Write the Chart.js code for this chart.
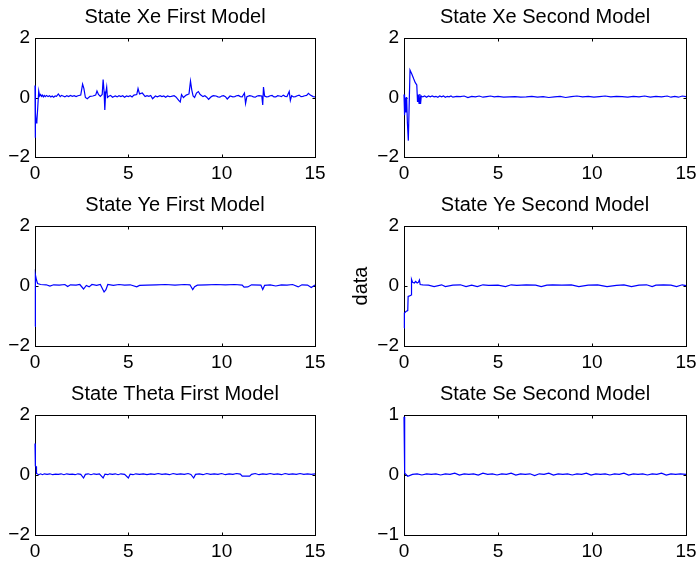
<!DOCTYPE html>
<html>
<head>
    <title>States of the two models</title>
    <!-- Include Chart.js library -->
    <script src="https://cdn.jsdelivr.net/npm/chart.js"></script>
    <style>
        body { margin: 0; background: #fff; overflow: hidden; }
        canvas { position: absolute; }
    </style>
</head>
<body>
    <canvas id="xeFirst" width="350" height="192" style="left:0;top:0"></canvas>
    <canvas id="xeSecond" width="392" height="192" style="left:349px;top:0"></canvas>
    <canvas id="yeFirst" width="350" height="193" style="left:0;top:188px"></canvas>
    <canvas id="yeSecond" width="392" height="193" style="left:349px;top:188px"></canvas>
    <canvas id="thetaFirst" width="350" height="193" style="left:0;top:377px"></canvas>
    <canvas id="seSecond" width="392" height="193" style="left:349px;top:377px"></canvas>

    <script>
        // x tick labels shared by all panels
        const xTicks = [0, 5, 10, 15];

        // State Xe, first model
        const xeFirstT = [0, 0.01, 0.03, 0.06, 0.1, 0.15, 0.2, 0.25, 0.3, 0.35, 0.4, 0.45, 0.5, 0.55, 0.62, 0.7, 0.78, 0.85, 0.92, 1.0, 1.08, 1.15, 1.25, 1.35, 1.42, 1.5, 1.6, 1.7, 1.8, 1.9, 2.0, 2.1, 2.2, 2.3, 2.45, 2.55, 2.62, 2.7, 2.8, 2.95, 3.1, 3.25, 3.32, 3.4, 3.5, 3.6, 3.65, 3.7, 3.74, 3.78, 3.84, 3.88, 3.95, 4.05, 4.15, 4.3, 4.4, 4.5, 4.6, 4.7, 4.8, 4.9, 5.0, 5.1, 5.2, 5.3, 5.45, 5.52, 5.6, 5.75, 5.9, 6.0, 6.1, 6.2, 6.3, 6.45, 6.55, 6.7, 6.8, 6.9, 7.0, 7.1, 7.2, 7.3, 7.45, 7.55, 7.7, 7.78, 7.85, 7.95, 8.1, 8.25, 8.33, 8.4, 8.47, 8.55, 8.65, 8.75, 8.85, 9.0, 9.1, 9.2, 9.3, 9.45, 9.55, 9.7, 9.8, 9.9, 10.0, 10.1, 10.2, 10.3, 10.45, 10.6, 10.7, 10.8, 10.9, 11.0, 11.1, 11.22, 11.28, 11.35, 11.5, 11.6, 11.7, 11.8, 11.9, 12.0, 12.15, 12.2, 12.24, 12.3, 12.4, 12.5, 12.6, 12.7, 12.8, 12.9, 13.0, 13.1, 13.2, 13.3, 13.4, 13.5, 13.62, 13.68, 13.75, 13.85, 13.95, 14.05, 14.15, 14.25, 14.35, 14.45, 14.55, 14.65, 14.75, 14.9, 15.0];
        const xeFirstV = [0.4, -1.35, -0.5, -0.85, -0.8, -0.3, 0.22, 0.05, 0.1, 0.04, 0.08, 0.02, 0.07, 0.03, 0.07, 0.03, 0.06, 0.02, 0.05, 0.01, 0.05, 0.04, 0.12, 0.03, 0.07, 0.05, 0.02, 0.06, 0.03, 0.07, 0.04, 0.06, 0.03, 0.06, 0.08, 0.45, 0.3, 0.0, -0.04, 0.04, 0.05, 0.08, 0.22, 0.1, 0.04, 0.1, 0.6, 0.2, -0.42, 0.1, 0.35, 0.0, 0.04, 0.07, 0.01, 0.05, 0.02, 0.06, 0.03, 0.06, 0.01, 0.05, 0.03, 0.06, 0.02, 0.08, 0.1, 0.3, 0.12, 0.15, 0.03, 0.06, 0.04, 0.07, -0.04, 0.05, 0.02, 0.06, 0.03, 0.05, 0.01, 0.05, 0.03, 0.04, 0.06, 0.02, -0.1, -0.15, 0.1, 0.0, 0.08, 0.12, 0.55, 0.25, 0.05, 0.0, 0.15, 0.2, 0.1, 0.03, 0.06, 0.01, -0.06, 0.03, 0.06, 0.05, 0.02, 0.01, 0.05, 0.06, 0.03, -0.05, 0.05, 0.02, 0.03, 0.06, 0.07, 0.03, 0.02, 0.15, -0.2, 0.03, 0.06, 0.05, 0.02, 0.01, 0.05, 0.06, 0.05, -0.25, 0.35, 0.05, 0.02, 0.03, 0.06, 0.07, 0.02, 0.02, 0.06, 0.05, 0.03, 0.08, 0.04, 0.03, 0.2, -0.1, 0.06, 0.02, 0.03, 0.06, 0.08, 0.03, 0.04, 0.06, 0.07, 0.14, 0.08, 0.03, 0.02];

        // State Xe, second model
        const xeSecondT = [0, 0.03, 0.06, 0.1, 0.14, 0.18, 0.23, 0.32, 0.42, 0.52, 0.6, 0.68, 0.72, 0.76, 0.8, 0.84, 0.88, 0.92, 1.0, 1.1, 1.2, 1.3, 1.4, 1.5, 1.6, 1.7, 1.8, 1.9, 2.0, 2.1, 2.2, 2.3, 2.4, 2.5, 2.6, 2.8, 3.0, 3.2, 3.4, 3.6, 3.8, 4.0, 4.2, 4.4, 4.6, 4.8, 5.0, 5.3, 5.6, 5.9, 6.2, 6.5, 6.8, 7.1, 7.4, 7.7, 8.0, 8.3, 8.6, 8.9, 9.2, 9.5, 9.8, 10.1, 10.4, 10.7, 11.0, 11.3, 11.6, 11.9, 12.2, 12.5, 12.8, 13.1, 13.4, 13.7, 14.0, 14.2, 14.4, 14.6, 14.8, 15.0];
        const xeSecondV = [0.1, -0.6, 0.0, -0.5, 0.02, -0.85, -1.45, 0.92, 0.78, 0.62, 0.5, 0.42, -0.15, 0.1, -0.2, 0.12, -0.22, 0.05, 0.02, 0.05, 0.01, 0.05, 0.02, 0.05, 0.02, 0.04, 0.01, 0.05, 0.02, 0.05, 0.01, 0.04, 0.02, 0.05, 0.01, 0.04, 0.03, 0.05, 0.0, 0.04, 0.02, 0.05, 0.01, 0.03, 0.05, 0.02, 0.04, 0.01, 0.02, 0.03, 0.01, 0.02, 0.04, 0.01, 0.03, 0.0, 0.02, 0.04, 0.0, 0.03, 0.05, 0.02, 0.04, 0.01, 0.03, 0.05, 0.02, 0.04, 0.03, 0.01, 0.04, 0.02, 0.05, 0.01, 0.04, 0.02, 0.05, 0.01, 0.04, 0.01, 0.05, 0.03];

        // State Ye, first model
        const yeFirstT = [0, 0.02, 0.08, 0.14, 0.3, 0.6, 0.8, 1.0, 1.3, 1.6, 1.75, 1.9, 2.2, 2.4, 2.6, 2.75, 2.9, 3.05, 3.3, 3.5, 3.7, 3.8, 3.9, 4.2, 4.5, 4.8, 5.1, 5.45, 5.6, 6.0, 6.5, 7.0, 7.5, 8.0, 8.3, 8.45, 8.55, 8.7, 9.2, 9.7, 10.2, 10.7, 11.1, 11.2, 11.4, 11.6, 12.1, 12.2, 12.3, 12.6, 12.9, 13.2, 13.5, 13.8, 14.1, 14.3, 14.6, 14.8, 15.0];
        const yeFirstV = [-1.35, 0.38, 0.2, 0.08, 0.05, 0.04, 0.0, 0.04, 0.03, 0.05, -0.02, 0.04, 0.03, 0.05, -0.1, 0.02, -0.03, 0.05, 0.02, 0.05, -0.2, -0.12, 0.05, 0.02, 0.05, 0.03, 0.04, -0.03, 0.02, 0.03, 0.04, 0.05, 0.03, 0.05, 0.04, -0.12, -0.02, 0.03, 0.04, 0.05, 0.04, 0.05, 0.03, -0.04, -0.03, 0.04, 0.03, -0.12, 0.02, 0.04, 0.0, 0.04, 0.03, 0.05, -0.03, 0.04, 0.03, -0.05, 0.03];

        // State Ye, second model
        const yeSecondT = [0, 0.02, 0.1, 0.2, 0.22, 0.3, 0.38, 0.4, 0.46, 0.55, 0.62, 0.7, 0.76, 0.82, 0.86, 1.0, 1.3, 1.6, 2.0, 2.2, 2.6, 3.0, 3.3, 3.6, 3.9, 4.2, 4.5, 5.0, 5.4, 5.7, 6.0, 6.5, 7.0, 7.3, 7.6, 7.9, 8.4, 8.9, 9.3, 9.8, 10.3, 10.8, 11.3, 11.7, 12.1, 12.5, 12.9, 13.2, 13.4, 13.8, 14.2, 14.5, 14.8, 15.0];
        const yeSecondV = [-1.4, -0.9, -0.85, -0.82, -0.35, -0.33, -0.3, 0.22, 0.12, 0.1, 0.15, 0.1, 0.12, 0.2, 0.05, 0.04, 0.03, -0.02, 0.04, -0.02, 0.03, 0.04, -0.02, 0.03, -0.02, 0.04, 0.02, 0.03, -0.02, 0.04, 0.02, 0.04, 0.03, -0.02, 0.03, 0.04, 0.03, 0.04, -0.02, 0.03, 0.04, -0.02, 0.02, 0.04, -0.02, 0.03, 0.04, -0.02, 0.03, 0.04, 0.03, -0.02, 0.04, 0.01];

        // State Theta, first model
        const thetaFirstT = [0, 0.02, 0.06, 0.08, 0.2, 0.3, 0.4, 0.5, 0.65, 0.8, 0.95, 1.1, 1.25, 1.4, 1.55, 1.7, 1.85, 2.0, 2.15, 2.3, 2.45, 2.6, 2.7, 2.85, 3.0, 3.15, 3.3, 3.45, 3.65, 3.75, 3.9, 4.0, 4.15, 4.3, 4.45, 4.6, 4.8, 5.0, 5.1, 5.25, 5.4, 5.6, 5.8, 6.0, 6.2, 6.4, 6.6, 6.8, 7.0, 7.2, 7.4, 7.6, 7.8, 8.0, 8.2, 8.35, 8.5, 8.6, 8.8, 9.0, 9.2, 9.4, 9.6, 9.8, 10.0, 10.2, 10.4, 10.6, 10.8, 11.0, 11.1, 11.5, 11.6, 11.8, 12.0, 12.2, 12.4, 12.6, 12.8, 13.0, 13.2, 13.4, 13.6, 13.8, 14.0, 14.2, 14.4, 14.6, 14.8, 15.0];
        const thetaFirstV = [1.05, 0.3, 0.28, 0.05, 0.01, 0.04, 0.01, 0.04, 0.02, 0.04, 0.01, 0.03, 0.02, 0.04, 0.01, 0.04, 0.02, 0.03, 0.01, 0.04, 0.02, -0.1, 0.02, 0.04, 0.01, 0.04, 0.02, 0.04, -0.1, 0.03, 0.01, 0.04, 0.02, 0.04, 0.01, 0.04, 0.02, -0.1, 0.03, 0.01, 0.04, 0.02, 0.04, 0.01, 0.04, 0.02, 0.05, 0.02, 0.04, 0.01, 0.05, 0.02, 0.04, 0.02, 0.05, 0.02, -0.1, 0.02, 0.04, 0.01, 0.05, 0.02, 0.04, 0.02, 0.05, 0.01, 0.04, 0.02, 0.05, 0.03, -0.04, -0.04, 0.02, 0.05, 0.01, 0.04, 0.02, 0.05, 0.02, 0.04, 0.01, 0.05, 0.02, 0.04, 0.02, 0.05, 0.02, 0.04, 0.02, 0.04];

        // State Se, second model
        const seSecondT = [0, 0.02, 0.05, 0.2, 0.45, 0.7, 0.95, 1.2, 1.45, 1.7, 1.95, 2.2, 2.45, 2.7, 2.95, 3.2, 3.45, 3.7, 3.95, 4.2, 4.45, 4.7, 4.95, 5.2, 5.45, 5.7, 5.95, 6.2, 6.45, 6.7, 6.95, 7.2, 7.45, 7.7, 7.95, 8.2, 8.45, 8.7, 8.95, 9.2, 9.45, 9.7, 9.95, 10.2, 10.45, 10.7, 10.95, 11.2, 11.45, 11.7, 11.95, 12.2, 12.45, 12.7, 12.95, 13.2, 13.45, 13.7, 13.95, 14.2, 14.45, 14.7, 15.0];
        const seSecondV = [0.97, 0.25, 0.03, -0.02, 0.01, 0.02, 0.0, 0.02, 0.01, 0.02, 0.0, 0.02, 0.01, 0.03, 0.0, 0.02, 0.01, 0.02, 0.0, 0.03, 0.01, 0.02, 0.0, 0.02, 0.01, 0.03, 0.0, 0.02, 0.01, 0.02, -0.01, 0.02, 0.01, 0.03, 0.0, 0.02, 0.01, 0.02, 0.0, 0.02, 0.01, 0.03, 0.0, 0.02, 0.01, 0.02, 0.0, 0.02, 0.01, 0.03, 0.0, 0.02, 0.01, 0.02, 0.0, 0.02, 0.01, 0.03, 0.0, 0.02, 0.01, 0.02, 0.01];

        const fontFamily = '"Liberation Sans", Arial, Helvetica, sans-serif';

        // MATLAB style box with inward ticks, drawn under the data line
        const boxPlugin = {
            id: 'matlabBox',
            beforeDatasetsDraw(chart) {
                const ctx = chart.ctx;
                const a = chart.chartArea;
                const l = Math.round(a.left) + 0.5, r = Math.round(a.right) + 0.5;
                const t = Math.round(a.top) + 0.5, b = Math.round(a.bottom) + 0.5;
                ctx.save();
                ctx.strokeStyle = '#000';
                ctx.lineWidth = 1;
                ctx.beginPath();
                chart.scales.x.ticks.forEach(tk => {
                    const px = Math.round(chart.scales.x.getPixelForValue(tk.value)) + 0.5;
                    ctx.moveTo(px, b); ctx.lineTo(px, b - 3);
                    ctx.moveTo(px, t); ctx.lineTo(px, t + 3);
                });
                chart.scales.y.ticks.forEach(tk => {
                    const py = Math.round(chart.scales.y.getPixelForValue(tk.value)) + 0.5;
                    ctx.moveTo(l, py); ctx.lineTo(l + 3, py);
                    ctx.moveTo(r, py); ctx.lineTo(r - 3, py);
                });
                ctx.stroke();
                ctx.strokeRect(l, t, r - l, b - t);
                ctx.restore();
            }
        };

        function drawPanel(id, title, tVals, vVals, yMax, yWidth, yLabel) {
            const ctx = document.getElementById(id).getContext('2d');
            const points = tVals.map((t, i) => ({ x: t, y: vVals[i] }));
            new Chart(ctx, {
                type: 'line',
                data: {
                    datasets: [{
                        data: points,
                        borderColor: '#0000ff',
                        borderWidth: 1.2,
                        pointRadius: 0,
                        tension: 0,
                        fill: false,
                        clip: 2
                    }]
                },
                options: {
                    responsive: false,
                    animation: false,
                    layout: { padding: 0 },
                    plugins: {
                        legend: { display: false },
                        tooltip: { enabled: false },
                        title: {
                            display: true,
                            text: title,
                            color: '#000',
                            font: { family: fontFamily, size: 20, weight: 'normal' },
                            padding: { top: 5, bottom: 9 }
                        }
                    },
                    scales: {
                        x: {
                            type: 'linear',
                            min: 0,
                            max: 15,
                            afterBuildTicks: s => { s.ticks = xTicks.map(v => ({ value: v })); },
                            afterFit: s => { s.height = 35; },
                            grid: { display: false, drawTicks: false },
                            border: { display: false },
                            ticks: {
                                color: '#000',
                                padding: 5,
                                maxRotation: 0,
                                font: { family: fontFamily, size: 19 }
                            }
                        },
                        y: {
                            min: -yMax,
                            max: yMax,
                            afterBuildTicks: s => { s.ticks = [-yMax, 0, yMax].map(v => ({ value: v })); },
                            afterFit: s => { s.width = yWidth; },
                            grid: { display: false, drawTicks: false },
                            border: { display: false },
                            title: {
                                display: !!yLabel,
                                text: yLabel || '',
                                color: '#000',
                                padding: 0,
                                font: { family: fontFamily, size: 20 }
                            },
                            ticks: {
                                color: '#000',
                                padding: 5,
                                font: { family: fontFamily, size: 19 },
                                callback: v => v < 0 ? '\u2212' + Math.abs(v) : String(v)
                            }
                        },
                        // empty right-hand axis, same width as the left one, so the title centres on the box
                        yRight: {
                            position: 'right',
                            min: -yMax,
                            max: yMax,
                            afterFit: s => { s.width = yWidth; },
                            grid: { display: false, drawTicks: false },
                            border: { display: false },
                            ticks: { display: false }
                        }
                    }
                },
                plugins: [boxPlugin]
            });
        }

        drawPanel('xeFirst', 'State Xe First Model', xeFirstT, xeFirstV, 2, 35);
        drawPanel('xeSecond', 'State Xe Second Model', xeSecondT, xeSecondV, 2, 55);
        drawPanel('yeFirst', 'State Ye First Model', yeFirstT, yeFirstV, 2, 35);
        drawPanel('yeSecond', 'State Ye Second Model', yeSecondT, yeSecondV, 2, 55, 'data');
        drawPanel('thetaFirst', 'State Theta First Model', thetaFirstT, thetaFirstV, 2, 35);
        drawPanel('seSecond', 'State Se Second Model', seSecondT, seSecondV, 1, 55);
    </script>
</body>
</html>
